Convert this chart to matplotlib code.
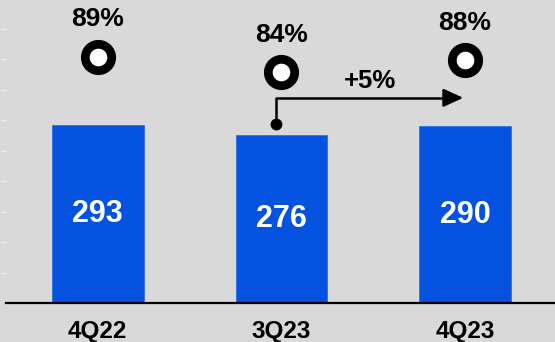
import matplotlib
matplotlib.use('Agg')
import matplotlib.pyplot as plt

plt.rcParams['font.family'] = ['Liberation Sans', 'DejaVu Sans']
plt.rcParams['font.weight'] = 'bold'

# chart data
quarters = ['4Q22', '3Q23', '4Q23']
values = [293, 276, 290]
shares = [89, 84, 88]
change_label = '+5%'

BG = '#d9d9d9'
BLUE = '#0551e0'

fig = plt.figure(figsize=(5.55, 3.42), dpi=100, facecolor=BG)
# axes spans pixels x 6..555, y 0..303 (from top)
ax = fig.add_axes([6 / 555, 39 / 342, 549 / 555, 303 / 342])
ax.set_facecolor(BG)

x = list(range(len(quarters)))
ax.bar(x, values, width=0.5, color=BLUE, edgecolor='#2f6fe8', linewidth=0.6, zorder=2)

ax.set_xlim(-0.5, 2.49)
ax.set_ylim(0, 497.7)

# value inside bars
for i, v in enumerate(values):
    ax.text(i, v / 2, str(v), ha='center', va='center', color='white',
            fontsize=22, fontweight='bold', zorder=3)

# category labels under the baseline
for i, q in enumerate(quarters):
    ax.annotate(q, xy=(i, 0), xycoords=('data', 'axes fraction'),
                xytext=(0, -20.5), textcoords='offset points',
                ha='center', va='center', fontsize=17.5, fontweight='bold',
                color='black', annotation_clip=False)

# spines / ticks
for s in ['top', 'right', 'left']:
    ax.spines[s].set_visible(False)
ax.spines['bottom'].set_linewidth(1.6)
ax.spines['bottom'].set_color('black')
ax.set_xticks([])
ax.set_yticks(range(50, 500, 50))
ax.tick_params(axis='y', length=4, width=0.8, color='#ececec', labelleft=False)

# percentage markers on second scale
ax2 = ax.twinx()
ax2.set_ylim(7, 108)
ax2.set_axis_off()
ax2.plot(x, shares, linestyle='none', marker='o', markersize=19,
         markerfacecolor='white', markeredgecolor='black', markeredgewidth=6.3,
         zorder=4)
for i, p in enumerate(shares):
    ax2.annotate('{}%'.format(p), xy=(i, p), xytext=(0, 27), textcoords='offset points',
                 ha='center', va='center', fontsize=19, fontweight='bold', color='black')

# change arrow from 3Q23 to 4Q23
x0 = x[1] - 0.03
y0 = values[1] + 18
y1 = max(values) + 44
x1 = x[2] - 0.01
ax.plot([x0, x0, x1 - 0.09], [y0, y1, y1], color='black', linewidth=1.8,
        solid_capstyle='butt', zorder=5)
ax.plot([x0], [y0], marker='o', markersize=7.5, color='black', zorder=5)
ax.annotate('', xy=(x1, y1), xytext=(x1 - 0.1, y1),
            arrowprops=dict(arrowstyle='-|>,head_length=1.2,head_width=0.55',
                            color='black', lw=1.8, shrinkA=0, shrinkB=0), zorder=5)
ax.annotate(change_label, xy=((x0 + x1) / 2, y1), xytext=(0, 12), textcoords='offset points',
            ha='center', va='center', fontsize=18.5, fontweight='bold', color='black')

fig.savefig('out.png', dpi=100, facecolor=BG)
